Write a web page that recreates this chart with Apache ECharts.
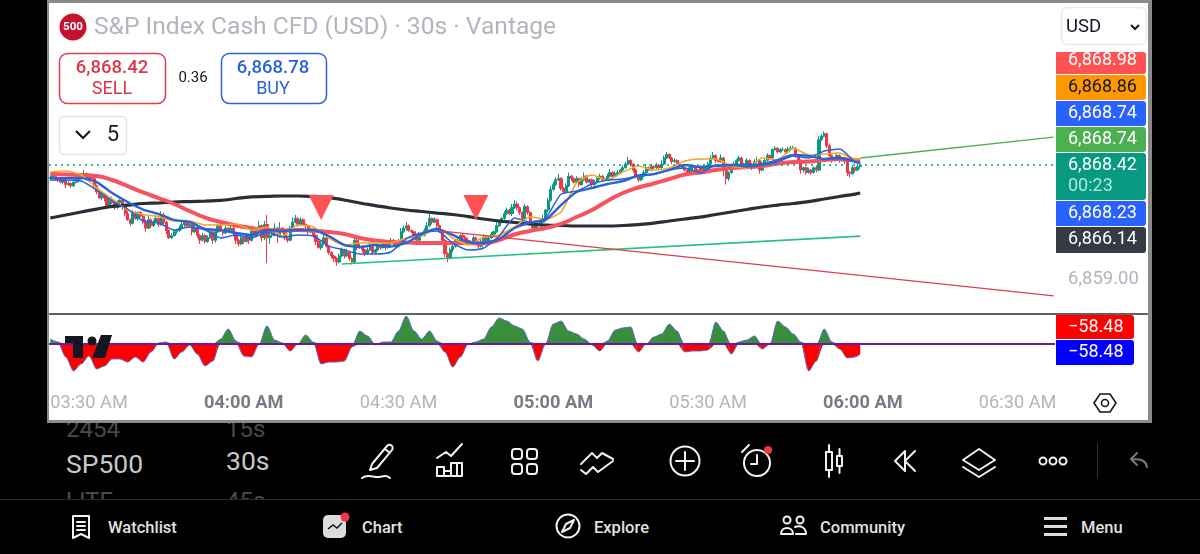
<!DOCTYPE html>
<html>
<head>
<meta charset="utf-8">
<script src="https://cdn.jsdelivr.net/npm/echarts@6/dist/echarts.min.js"></script>
<style>
html, body { margin: 0; padding: 0; background: #000; width: 1200px; height: 554px; overflow: hidden; font-family: Roboto, sans-serif; }
#panel { position: absolute; left: 47px; top: 0; width: 1099px; height: 417px; background: #fff; border: 3px solid #8a8a8a; border-width: 3px 4px 3px 2px; }
#chart { position: absolute; left: 0; top: 0; width: 1200px; height: 554px; }
#bar { position: absolute; left: 0; top: 0; }
</style>
</head>
<body>
<svg id="bar" width="1200" height="554" font-family="Roboto, sans-serif">
  <defs><clipPath id="wheel"><rect x="0" y="423" width="400" height="76"/></clipPath></defs>
  <g clip-path="url(#wheel)" fill="#4a4a4a" font-size="24">
    <text x="66" y="437">2454</text><text x="226" y="437">15s</text>
    <text x="66" y="509">LITE</text><text x="226" y="509">45s</text>
  </g>
  <text x="66" y="473" font-size="26.500" font-weight="400" fill="#c8c8c8">SP500</text>
  <text x="226" y="470" font-size="26.500" font-weight="400" fill="#c8c8c8">30s</text>
  <line x1="0" y1="499.5" x2="1200" y2="499.5" stroke="#2a2a2a"/>
  <g fill="none" stroke="#f2f2f2" stroke-width="2" stroke-linecap="round" stroke-linejoin="round">
    <!-- drawing tools -->
    <path d="M372 464l15-18a3 3 0 0 1 5 4l-15 18-7 2zM385 449l5 4M362 478c6-5 12 0 17-1s8-2 11 1"/>
    <!-- indicators -->
    <path d="M437 458l9-6 5 4 11-12M437 476v-9h7v9zM444 476v-5h7v5zM451 476v-13h11v13zM457 463v13"/>
    <!-- layouts -->
    <rect x="512" y="449" width="10" height="10" rx="3"/><rect x="527" y="449" width="10" height="10" rx="3"/>
    <rect x="512" y="464" width="10" height="10" rx="3"/><rect x="527" y="464" width="10" height="10" rx="3"/>
    <!-- trend tools -->
    <path d="M581 464l11-11 5 5 5-5 11 6M581 470l5 4 7-7 5 5 15-11"/>
    <!-- add -->
    <circle cx="685" cy="461" r="14.5"/><path d="M685 452v18M676 461h18"/>
    <!-- alert -->
    <circle cx="757" cy="463" r="13"/><path d="M757 455v9h-6M742 452l7-7"/>
    <!-- candles -->
    <path d="M826 452h6v18h-6zM829 445v7M829 470v7M837 456h5v10h-5zM839.500 449v7M839.500 466v7"/>
    <!-- replay -->
    <path d="M905 451l-10 10 10 10zM915 451l-10 10 10 10"/>
    <!-- layers -->
    <path d="M979 449l16 11-16 10-16-10zM963 467l16 10 16-10"/>
    <circle cx="1043" cy="461" r="3.500"/><circle cx="1053" cy="461" r="3.500"/><circle cx="1063" cy="461" r="3.500"/>
    <!-- bottom nav -->
    <path d="M73 516h16v22l-8-4-8 4zM77 522h8M77 526h8M77 530h8"/>
    <circle cx="568" cy="526" r="11.500"/><path d="M574 520l-8 4-4 8 8-4z"/>
    <circle cx="787" cy="520" r="3.500"/><circle cx="800" cy="520" r="3.500"/><path d="M781 534c0-8 12-8 12 0zM795 527c6-2 11 1 11 7h-10"/>
  </g>
  <circle cx="768" cy="450" r="4" fill="#f23645"/>
  <line x1="1097.500" y1="443" x2="1097.500" y2="479" stroke="#333"/>
  <path d="M1147 467c-1-6-5-8-15-8M1137 453l-6 6 6 6" fill="none" stroke="#777" stroke-width="2" stroke-linecap="round"/>
  <rect x="323" y="515" width="23" height="23" rx="5" fill="#dcdcdc"/>
  <path d="M328 529l5-4 4 3 5-5" fill="none" stroke="#111" stroke-width="1.500"/>
  <circle cx="345" cy="517" r="4.500" fill="#f23645"/>
  <g fill="#dcdcdc"><rect x="1044" y="517" width="23" height="3"/><rect x="1044" y="525" width="23" height="3"/><rect x="1044" y="533" width="23" height="3"/></g>
  <g font-size="16.500" font-weight="500" fill="#e0e0e0">
    <text x="108" y="533">Watchlist</text><text x="362" y="533">Chart</text><text x="594" y="533">Explore</text>
    <text x="820" y="533">Community</text><text x="1081" y="533">Menu</text>
  </g>
</svg>
<div id="panel"></div>
<div id="chart"></div>
<script>
// 30s bars, the first bar open is the only one not taken from a previous close
var firstOpen = 6867.3;
var closes = [
  6867.4,6867.5,6867.3,6867.2,6867.0,6867.2,6866.8,6866.9,6866.7,6867.0,
  6867.2,6867.3,6867.5,6867.7,6867.3,6867.5,6867.3,6866.7,6866.2,6865.7,
  6865.9,6865.7,6865.1,6865.5,6865.3,6864.9,6865.3,6865.5,6865.0,6864.4,
  6863.9,6863.6,6864.4,6864.0,6864.5,6864.2,6863.7,6863.2,6863.9,6863.4,
  6863.7,6864.0,6863.5,6864.3,6863.7,6863.0,6862.4,6862.6,6862.9,6863.0,
  6863.2,6863.5,6863.7,6863.4,6863.5,6862.9,6863.2,6862.6,6862.2,6862.6,
  6862.1,6862.4,6862.9,6862.2,6862.9,6863.4,6863.0,6862.8,6863.2,6863.0,
  6863.2,6862.8,6862.2,6861.9,6862.4,6862.1,6862.6,6862.2,6863.0,6862.6,
  6862.9,6863.4,6862.4,6863.5,6862.4,6862.6,6862.8,6863.2,6862.6,6863.2,
  6862.9,6862.4,6862.2,6863.2,6863.7,6864.0,6863.5,6863.9,6863.5,6863.4,
  6862.9,6863.0,6862.6,6862.1,6861.6,6861.9,6862.4,6861.7,6861.2,6860.9,
  6860.7,6860.4,6860.9,6861.4,6860.9,6861.2,6860.7,6860.4,6862.2,6861.6,
  6861.7,6861.4,6861.1,6861.4,6861.7,6861.2,6861.4,6861.7,6861.6,6861.9,
  6861.6,6861.9,6862.2,6861.9,6861.7,6862.1,6862.9,6863.2,6863.4,6863.0,
  6862.9,6862.6,6862.2,6862.7,6862.6,6863.0,6863.4,6864.0,6863.7,6863.9,
  6863.4,6862.9,6862.2,6861.1,6860.7,6861.4,6861.7,6862.2,6861.9,6862.6,
  6862.4,6862.2,6861.9,6862.1,6862.4,6861.9,6861.7,6862.1,6862.4,6862.0,
  6862.4,6862.7,6862.9,6863.4,6863.7,6864.0,6864.4,6864.7,6864.4,6864.9,
  6865.2,6864.9,6864.5,6864.0,6865.0,6864.5,6863.7,6863.2,6863.5,6863.4,
  6863.7,6864.0,6864.7,6865.5,6866.4,6866.8,6867.2,6867.3,6866.5,6866.2,
  6866.7,6867.5,6867.3,6867.0,6867.3,6866.8,6867.2,6867.5,6867.0,6867.2,
  6866.8,6867.0,6867.3,6867.5,6867.2,6867.3,6867.5,6867.8,6867.5,6867.7,
  6867.8,6868.0,6868.2,6868.5,6868.8,6868.5,6868.0,6867.5,6867.2,6867.5,
  6867.8,6868.2,6868.0,6868.3,6868.2,6868.4,6868.2,6868.5,6869.0,6869.3,
  6869.0,6868.7,6868.8,6868.5,6868.3,6868.2,6868.0,6867.8,6868.2,6868.3,
  6868.0,6867.8,6868.2,6868.0,6868.2,6868.5,6869.0,6869.2,6868.8,6868.7,
  6869.0,6868.0,6867.3,6867.8,6868.2,6868.5,6868.8,6869.0,6868.5,6868.3,
  6868.8,6868.5,6868.2,6868.7,6868.8,6868.0,6868.5,6868.8,6869.2,6869.0,
  6869.7,6869.8,6869.5,6869.7,6869.7,6869.5,6869.7,6869.8,6869.8,6869.2,
  6868.8,6868.0,6868.2,6867.8,6868.0,6867.8,6868.2,6868.0,6870.5,6870.8,
  6871.0,6870.0,6869.2,6868.8,6869.0,6869.2,6868.8,6869.0,6868.7,6867.8,6867.7,6868.2,6868.0,6868.3,6868.4
];
// wick length above and below the candle body
var wickUp = [
  .1,.2,.1,.1,.2,.1,.1,.2,.1,.3, .2,.1,.2,.3,.1,.2,.1,.1,.1,.2,
  .3,.1,.1,.2,.3,.1,.2,.1,.1,.1, .2,.1,.3,.2,.1,.1,.1,.2,.3,.1,
  .2,.2,.1,.3,.2,.1,.1,.2,.2,.1, .2,.3,.1,.2,.1,.1,.2,.1,.1,.2,
  .1,.2,.3,.1,.2,.2,.1,.1,.2,.1, .3,.1,.1,.1,.2,.1,.2,.1,.3,.2,
  .2,.4,.1,.3,.8,.6,.3,.4,.1,.5, .1,.1,.1,.2,.4,.3,.1,.2,.1,.1,
  .1,.2,.1,.1,.1,.2,.3,.1,.1,.1, .1,.1,.2,.2,.1,.3,.1,.1,.3,.1,
  .2,.1,.1,.2,.3,.1,.1,.2,.1,.2, .1,.2,.2,.1,.1,.2,.3,.2,.3,.1,
  .1,.1,.1,.2,.1,.2,.3,.4,.1,.2, .1,.1,.1,.1,.1,.2,.1,.1,.2,.1,
  .2,.1,.2,.1,.2,.1,.1,.2,.3,.1, .2,.2,.1,.3,.2,.1,.2,.2,.1,.3,
  .3,.2,.1,.1,.2,.1,.1,.1,.2,.1, .2,.3,.1,.2,.3,.2,.2,.4,.1,.1,
  .2,.3,.1,.1,.2,.1,.2,.3,.1,.1, .1,.2,.2,.2,.1,.1,.2,.3,.1,.2,
  .2,.1,.2,.2,.3,.1,.1,.1,.1,.2, .2,.3,.1,.2,.1,.2,.1,.3,.2,.2,
  .1,.1,.2,.1,.1,.2,.1,.1,.2,.2, .1,.1,.2,.1,.1,.2,.2,.3,.1,.1,
  .3,.1,.1,.1,.2,.2,.1,.2,.1,.1, .2,.1,.1,.2,.3,.1,.2,.1,.2,.1,
  .1,.2,.1,.1,.2,.1,.2,.2,.2,.1, .1,.1,.1,.1,.2,.1,.1,.2,.3,.2,
  .2,.1,.2,.1,.1,.2,.1,.1,.1,.1, .1,.2,.1,.2,.1
];
var wickDown = [
  .2,.1,.2,.2,.1,.2,.3,.1,.2,.1, .1,.2,.1,.1,.2,.1,.2,.1,.2,.1,
  .2,.3,.2,.1,.1,.2,.1,.1,.3,.2, .1,.2,.1,.1,.2,.1,.2,.3,.1,.2,
  .1,.1,.2,.1,.2,.3,.1,.1,.1,.2, .1,.1,.2,.1,.2,.3,.1,.2,.3,.1,
  .2,.1,.1,.3,.2,.1,.1,.2,.1,.1, .1,.2,.3,.2,.1,.2,.1,.3,.1,.1,
  .1,.2,.3,.2,2.1,.5,.2,.3,.6,.2, .1,.2,.2,.1,.1,.1,.2,.1,.1,.2,
  .2,.1,.2,.3,.1,.2,.1,.1,.2,.2, .3,.3,.1,.1,.2,.1,.2,.2,.1,.2,
  .1,.2,.2,.1,.1,.2,.1,.1,.2,.1, .2,.1,.1,.2,.2,.1,.1,.1,.2,.1,
  .1,.2,.2,.1,.1,.1,.2,.1,.2,.1, .2,.1,.2,.3,.3,.1,.2,.1,.2,.1,
  .1,.2,.1,.1,.2,.1,.2,.1,.1,.2, .1,.1,.2,.1,.1,.1,.1,.1,.1,.2,
  .1,.2,.2,.2,.1,.2,.3,.2,.1,.2, .1,.1,.2,.2,.1,.1,.1,.1,.2,.1,
  .1,.1,.2,.1,.1,.2,.1,.1,.1,.1, .2,.1,.1,.1,.2,.1,.1,.1,.2,.1,
  .1,.1,.1,.1,.1,.2,.2,.1,.2,.1, .1,.1,.1,.1,.1,.1,.2,.1,.1,.1,
  .1,.2,.1,.1,.1,.1,.1,.1,.1,.2, .2,.2,.1,.1,.1,.1,.2,.1,.2,.1,
  .1,.5,.5,.2,.1,.1,.1,.1,.1,.2, .1,.1,.2,.1,.1,.3,.1,.1,.1,.1,
  .1,.1,.1,.1,.1,.1,.1,.1,.1,.2, .2,.3,.2,.2,.1,.2,.1,.2,.1,.1,
  .1,.2,.1,.2,.1,.1,.2,.1,.2,.3, .3,.1,.2,.1,.2
];
// moving averages, read every 6 bars, last point at bar 314
var maStep = 6;
var maBlack = [
  6864.04,6864.29,6864.54,6864.78,6865.00,6865.11,6865.24,6865.28,6865.36,6865.40,
  6865.44,6865.49,6865.65,6865.78,6865.82,6865.86,6865.86,6865.82,6865.73,6865.53,
  6865.28,6865.07,6864.87,6864.70,6864.58,6864.45,6864.33,6864.16,6863.96,6863.79,
  6863.67,6863.55,6863.46,6863.42,6863.38,6863.38,6863.38,6863.42,6863.50,6863.62,
  6863.79,6863.96,6864.12,6864.33,6864.54,6864.74,6864.95,6865.11,6865.24,6865.40,
  6865.61,6865.82,6866.02,6866.11
];
var maRed = [
  6867.67,6867.63,6867.59,6867.51,6867.18,6866.68,6866.15,6865.69,6865.20,6864.62,
  6864.08,6863.71,6863.42,6863.21,6863.05,6863.01,6863.05,6863.01,6862.88,6862.72,
  6862.39,6862.18,6862.06,6862.02,6861.98,6861.98,6861.98,6861.98,6861.94,6862.22,
  6862.68,6862.97,6863.21,6863.55,6864.12,6864.70,6865.45,6866.11,6866.56,6866.89,
  6867.26,6867.63,6867.80,6868.01,6868.17,6868.25,6868.34,6868.54,6868.67,6868.71,
  6868.83,6868.92,6868.83,6868.79
];
var maBlueWide = [
  6867.34,6867.34,6867.34,6867.01,6866.10,6865.36,6864.74,6864.37,6863.88,6863.71,
  6863.13,6863.05,6862.80,6862.64,6863.05,6862.97,6863.05,6863.05,6862.55,6861.81,
  6861.64,6861.81,6861.69,6861.98,6862.72,6863.13,6862.64,6862.06,6861.98,6862.31,
  6863.21,6863.67,6863.88,6865.11,6866.19,6866.52,6866.85,6867.10,6867.55,6867.67,
  6868.01,6868.42,6868.25,6868.34,6868.42,6868.42,6868.50,6868.83,6869.25,6869.17,
  6868.92,6869.00,6868.67,6868.59
];
var maBlueThin = [
  6867.18,6867.18,6867.10,6866.35,6865.45,6864.78,6863.79,6863.63,6863.05,6863.30,
  6863.05,6862.39,6862.64,6862.39,6862.88,6862.47,6862.64,6862.55,6861.72,6861.40,
  6861.07,6861.07,6861.23,6862.31,6862.80,6862.97,6861.98,6861.40,6861.56,6862.55,
  6864.04,6863.71,6864.04,6866.02,6866.27,6866.85,6867.18,6867.26,6867.51,6867.67,
  6868.01,6868.17,6867.76,6868.42,6868.42,6868.25,6868.42,6868.67,6869.17,6869.00,
  6869.58,6869.74,6868.67,6868.59
];
var maOrange = [
  6867.84,6867.92,6867.59,6866.52,6865.61,6864.70,6864.33,6864.16,6863.79,6863.79,
  6863.46,6863.46,6863.55,6863.05,6863.30,6862.55,6863.46,6863.30,6862.39,6861.81,
  6861.98,6861.98,6861.98,6862.39,6862.55,6863.21,6862.39,6861.81,6862.47,6862.64,
  6863.30,6864.12,6863.96,6864.53,6866.93,6867.59,6867.18,6867.84,6868.34,6868.01,
  6868.17,6868.75,6868.92,6868.92,6868.34,6868.17,6869.00,6868.83,6869.83,6869.25,
  6869.33,6869.41,6868.92,6868.92
];
// drawn lines, [bar, price]
var trendGreen = [[314, 6869.0], [389, 6870.73]];
var trendMint = [[113, 6860.24], [314, 6862.55]];
var trendRed = [[151, 6862.97], [389, 6857.6]];
var signalMarks = [[105, 6864.9], [165, 6864.9]];
var lastPrice = 6868.42;
var priceTicks = [6859];
// oscillator in the lower pane, read every 3 bars
var oscStep = 3;
var oscValues = [
  24,10,-63,-131,-97,-58,-122,-107,-73,-73,-88,-63,-88,-39,5,10,-73,-39,-5,-49,
  -107,-83,24,73,15,-58,-63,0,88,19,5,-34,0,44,10,-97,-88,-88,-83,-15,
  63,39,-5,10,10,63,136,63,24,63,15,-39,-112,-63,0,10,24,83,127,112,
  88,73,10,-83,0,97,112,63,49,24,-5,-34,15,68,78,83,-39,0,34,49,
  97,63,-39,-34,-34,-29,107,63,-49,10,19,39,-24,0,112,83,49,10,-131,-83,
  73,10,-24,-68,-63,-49
];
var barCount = 390;
var lastBar = 314;

var categories = [];
for (var n = 0; n < barCount; n++) {
  var mins = 202.5 + n / 2;
  var h = Math.floor(mins / 60);
  var m = Math.floor(mins % 60);
  categories.push("0" + h + ":" + (m < 10 ? "0" : "") + m + " AM");
}

var candles = closes.map(function (c, i) {
  var o = i ? closes[i - 1] : firstOpen;
  return [o, c, Math.min(o, c) - wickDown[i], Math.max(o, c) + wickUp[i]];
});

function sampled(values, step) {
  return values.map(function (v, k) { return [Math.min(k * step, lastBar), v]; });
}
function maLine(values, color, width, smooth) {
  return { type: "line", data: sampled(values, maStep), symbol: "none", smooth: smooth, silent: true, lineStyle: { color: color, width: width } };
}
function trendLine(points, color, width) {
  return { type: "line", data: points, symbol: "none", silent: true, lineStyle: { color: color, width: width } };
}

// price tags on the right, stacked so they do not line up with the scale
function tag(x0, x1, y0, y1, bg, fg, s, textY, sub) {
  var items = [
    { type: "rect", z: 50, shape: { x: x0, y: y0, width: x1 - x0, height: y1 - y0, r: [0, 3, 3, 0] }, style: { fill: bg } },
    { type: "text", z: 51, style: { x: 1068, y: textY, text: s, fill: fg, font: "18px Roboto", textVerticalAlign: "middle" } }
  ];
  if (sub) items.push({ type: "text", z: 51, style: { x: 1068, y: textY + 21, text: sub, fill: "#b2e6da", font: "18px Roboto", textVerticalAlign: "middle" } });
  return items;
}
function box(x, y, w, hgt, r, stroke, sw) {
  return { type: "rect", z: 50, shape: { x: x + 0.5, y: y + 0.5, width: w, height: hgt, r: r }, style: { fill: "#fff", stroke: stroke, lineWidth: sw } };
}
function label(x, y, s, fill, font, align) {
  return { type: "text", z: 51, style: { x: x, y: y, text: s, fill: fill, font: font, textAlign: align || "center", textVerticalAlign: "middle" } };
}

var graphics = [].concat(
  tag(1056, 1146, 52, 74, "#ff5252", "#fff", "6,868.98", 60.5),
  tag(1056, 1146, 75, 100, "#ff9800", "#131722", "6,868.86", 87.5),
  tag(1056, 1146, 101, 126, "#2962ff", "#fff", "6,868.74", 113.5),
  tag(1056, 1146, 127, 152, "#4caf50", "#fff", "6,868.74", 139.5),
  tag(1056, 1146, 153, 200, "#089981", "#fff", "6,868.42", 165.5, "00:23"),
  tag(1056, 1146, 201, 226, "#2962ff", "#fff", "6,868.23", 213),
  tag(1056, 1146, 227, 253, "#363a45", "#fff", "6,866.14", 239.5),
  tag(1056, 1134, 315, 339, "#ff0000", "#fff", "\u221258.48", 327),
  tag(1056, 1134, 340, 365, "#0000ff", "#fff", "\u221258.48", 352.5),
  [
    // header
    { type: "circle", z: 50, shape: { cx: 73, cy: 27, r: 13.5 }, style: { fill: "#c4122f" } },
    label(73, 27.5, "500", "#fff", "bold 11.5px Roboto"),
    label(94, 28, "S&P Index Cash CFD (USD) \u00b7 30s \u00b7 Vantage", "#b2b5be", "24.6px Roboto", "left"),
    box(59, 53, 106, 50, 8, "#dc3f52", 1.5),
    label(112, 68, "6,868.42", "#dc3545", "500 18.5px Roboto"),
    label(112, 89.5, "SELL", "#dc3545", "18px Roboto"),
    label(193, 78, "0.36", "#131722", "15px Roboto"),
    box(221, 53, 105, 50, 8, "#2c5fdb", 1.5),
    label(273, 68, "6,868.78", "#2962d9", "500 18.5px Roboto"),
    label(273, 89.5, "BUY", "#2962d9", "18px Roboto"),
    box(59, 116, 67, 38, 4, "#e4e4e6", 1.5),
    { type: "polyline", z: 51, shape: { points: [[76, 131], [83, 138], [90, 131]] }, style: { stroke: "#131722", lineWidth: 2.2, fill: null } },
    label(113, 135.5, "5", "#131722", "22px Roboto"),
    box(1061, 7, 85, 37, 6, "#ececee", 1.5),
    label(1066, 27.5, "USD", "#131722", "18.5px Roboto", "left"),
    { type: "polyline", z: 51, shape: { points: [[1131, 25], [1135, 29], [1139, 25]] }, style: { stroke: "#131722", lineWidth: 2, fill: null } },
    // pane separator and logo
    { type: "line", z: 40, shape: { x1: 49, y1: 314, x2: 1148, y2: 314 }, style: { stroke: "#2a2e39", lineWidth: 1.5 } },
    { type: "polygon", z: 50, shape: { points: [[65, 336], [83, 336], [83, 358], [73, 358], [73, 343], [65, 343]] }, style: { fill: "#131722" } },
    { type: "circle", z: 50, shape: { cx: 92, cy: 341, r: 4.5 }, style: { fill: "#131722" } },
    { type: "polygon", z: 50, shape: { points: [[101, 335], [112, 335], [105, 358], [92, 358]] }, style: { fill: "#131722" } },
    // clip the last time label and settings icon
    { type: "rect", z: 45, shape: { x: 1055, y: 392, width: 36, height: 22 }, style: { fill: "#fff" } },
    { type: "polygon", z: 50, shape: { points: [[1094, 403], [1100, 394], [1110, 394], [1116, 403], [1110, 412], [1100, 412]] }, style: { fill: "#fff", stroke: "#131722", lineWidth: 1.6 } },
    { type: "circle", z: 51, shape: { cx: 1105, cy: 403, r: 3.5 }, style: { fill: "#fff", stroke: "#131722", lineWidth: 1.6 } }
  ]
);

var priceSeries = [
  {
    type: "candlestick", data: candles, barWidth: 2.6, silent: true,
    itemStyle: { color: "#089981", color0: "#f23645", borderColor: "#089981", borderColor0: "#f23645", borderWidth: 1 },
    markLine: { silent: true, symbol: "none", label: { show: false }, data: [{ yAxis: lastPrice }], lineStyle: { color: "#089981", type: [2, 4], width: 1.5 } }
  },
  maLine(maBlack, "#2a2e39", 3.2, true),
  maLine(maRed, "#f7525f", 4, true),
  maLine(maOrange, "#f5a623", 1.6, 0.2),
  maLine(maBlueThin, "#2962d9", 1.5, 0.2),
  maLine(maBlueWide, "#2962d9", 2.4, 0.2),
  trendLine(trendGreen, "#4caf50", 1.3),
  trendLine(trendMint, "#26c281", 1.7),
  trendLine(trendRed, "#dc3f52", 1.3),
  { type: "scatter", data: signalMarks, z: 6, symbol: "triangle", symbolRotate: 180, symbolSize: 25, silent: true, itemStyle: { color: "#ff5252", opacity: 1 } }
];

function oscArea(values, color) {
  return {
    type: "line", xAxisIndex: 1, yAxisIndex: 1, data: sampled(values, oscStep), symbol: "none", silent: true,
    smooth: 0.3, smoothMonotone: "x", lineStyle: { width: 0 }, areaStyle: { color: color, opacity: 1 }
  };
}
var oscSeries = [
  oscArea(oscValues.map(function (v) { return v > 0 ? v : 0; }), "#388e3c"),
  oscArea(oscValues.map(function (v) { return v < 0 ? v : 0; }), "#ff0000"),
  {
    type: "line", xAxisIndex: 1, yAxisIndex: 1, data: sampled(oscValues, oscStep), symbol: "none", silent: true,
    smooth: 0.3, smoothMonotone: "x", lineStyle: { color: "#5c6bc0", width: 1 },
    markLine: { silent: true, symbol: "none", label: { show: false }, data: [{ yAxis: 0 }], lineStyle: { color: "#6a1b9a", type: "solid", width: 2 } }
  }
];

var chart = echarts.init(document.getElementById("chart"));
chart.setOption({
  animation: false,
  backgroundColor: "transparent",
  textStyle: { fontFamily: "Roboto" },
  grid: [
    { left: 49, width: 1006, top: 10, height: 303 },
    { left: 49, width: 1006, top: 315, height: 75 }
  ],
  xAxis: [
    { type: "category", data: categories, gridIndex: 0, axisLine: { show: false }, axisTick: { show: false }, axisLabel: { show: false }, splitLine: { show: false } },
    {
      type: "category", data: categories, gridIndex: 1, axisLine: { show: false }, axisTick: { show: false }, splitLine: { show: false },
      axisLabel: {
        margin: 4, color: "#b2b5be", fontSize: 18.2, hideOverlap: false,
        interval: function (i) { return i % 60 === 15; },
        formatter: function (v, i) { return i % 120 === 75 ? "{hour|" + v + "}" : v; },
        rich: { hour: { fontWeight: "bold", color: "#787b86", fontSize: 18.2 } }
      }
    }
  ],
  yAxis: [
    {
      type: "value", gridIndex: 0, position: "right", min: 6856.19, max: 6881.23, scale: true,
      axisLine: { show: false }, axisTick: { show: false }, splitLine: { show: false },
      axisLabel: {
        customValues: priceTicks, margin: 13, color: "#b2b5be", fontSize: 18.5, padding: [4, 0, 0, 0],
        formatter: function (v) { return v.toLocaleString("en-US", { minimumFractionDigits: 2 }); }
      }
    },
    { type: "value", gridIndex: 1, position: "right", min: -224, max: 141.2, axisLine: { show: false }, axisTick: { show: false }, axisLabel: { show: false }, splitLine: { show: false } }
  ],
  series: priceSeries.concat(oscSeries),
  graphic: graphics
});
</script>
</body>
</html>
